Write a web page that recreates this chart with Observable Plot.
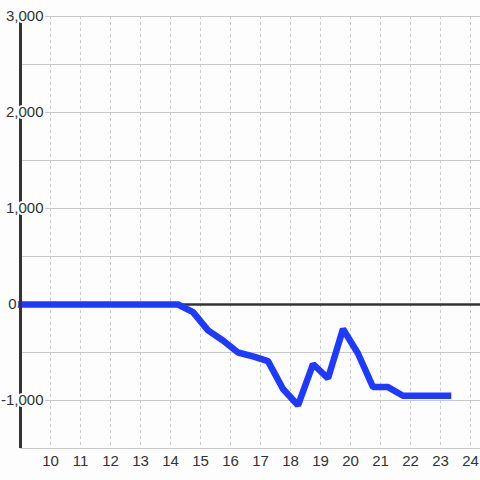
<!DOCTYPE html>
<html>
<head>
<meta charset="utf-8">
<script src="https://cdn.jsdelivr.net/npm/d3@7"></script>
<script src="https://cdn.jsdelivr.net/npm/@observablehq/plot@0.6"></script>
<style>
  html, body { margin: 0; padding: 0; background: #fcfdfc; }
</style>
</head>
<body>
<div id="chart"></div>
<script>
const hours = [9, 9.25, 9.75, 10.25, 10.75, 11.25, 11.75, 12.25, 12.75, 13.25, 13.75, 14.25,
  14.75, 15.25, 15.75, 16.25, 16.75, 17.25, 17.75, 18.25, 18.75, 19.25, 19.75,
  20.25, 20.75, 21.25, 21.75, 22.25, 22.75, 23.25];
const values = [0, 0, 0, 0, 0, 0, 0, 0, 0, 0, 0, 0,
  -80, -270, -375, -500, -540, -590, -880, -1050, -620, -770, -255,
  -510, -860, -860, -950, -950, -950, -950];
const xTicks = [10, 11, 12, 13, 14, 15, 16, 17, 18, 19, 20, 21, 22, 23, 24];
const yGrid = [-1500, -1000, -500, 0, 500, 1000, 1500, 2000, 2500, 3000];
const yTickValues = [-1000, 0, 1000, 2000, 3000];
const yTickLabels = ["-1,000", "0", "1,000", "2,000", "3,000"];

const data = hours.map((h, i) => ({h, v: values[i]}));
const yLabels = yTickValues.map((v, i) => ({v, label: yTickLabels[i]}));
const bg = "#fcfdfc";
const font = "Liberation Sans, Arial, sans-serif";

const chart = Plot.plot({
  width: 480,
  height: 480,
  marginLeft: 20,
  marginRight: 0,
  marginTop: 16,
  marginBottom: 32,
  style: {background: bg, fontFamily: font},
  x: {domain: [9, 24.3333], axis: null},
  y: {domain: [-1500, 3000], axis: null},
  marks: [
    Plot.ruleY(yGrid, {stroke: "#c8c8c8", strokeWidth: 1}),
    Plot.ruleX(xTicks, {stroke: "#c8c8c8", strokeWidth: 1, strokeDasharray: "3,3"}),
    Plot.ruleY([0], {stroke: "#333", strokeWidth: 2.5}),
    Plot.line(data, {x: "h", y: "v", stroke: "#1f3aff", strokeWidth: 6.5,
      strokeLinecap: "square", strokeLinejoin: "miter"}),
    Plot.ruleX([9], {stroke: "#333", strokeWidth: 3}),
    Plot.text(yLabels.filter(d => d.v !== 0), {y: "v", text: "label", frameAnchor: "left",
      textAnchor: "end", dx: 23, fill: "#333", stroke: bg, strokeWidth: 4,
      fontSize: 15, fontFamily: font}),
    Plot.text(yLabels.filter(d => d.v === 0), {y: "v", text: "label", frameAnchor: "left",
      textAnchor: "end", dx: -4, fill: "#333", stroke: bg, strokeWidth: 4,
      fontSize: 15, fontFamily: font}),
    Plot.text(xTicks, {x: d => d, text: d => String(d), frameAnchor: "bottom",
      dy: 13, lineAnchor: "middle", fill: "#333", fontSize: 15, fontFamily: font})
  ]
});
document.getElementById("chart").appendChild(chart);
</script>
</body>
</html>
